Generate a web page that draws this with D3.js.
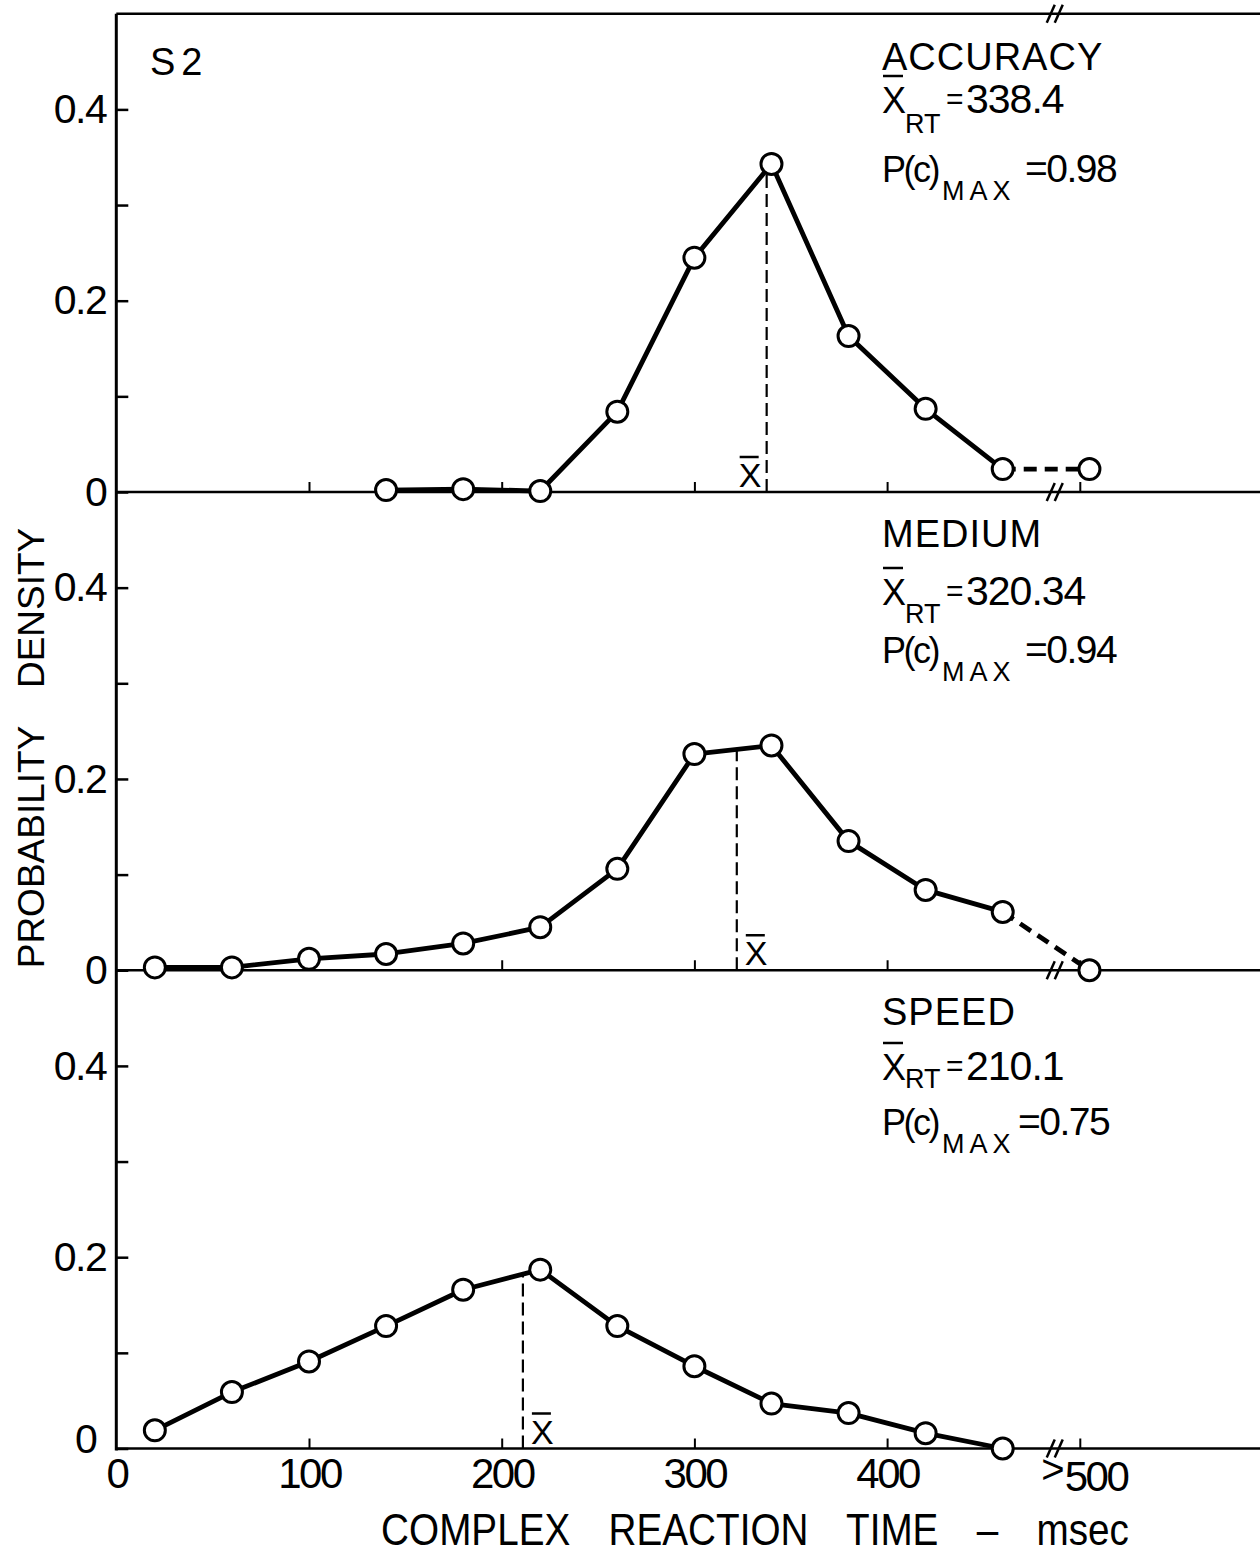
<!DOCTYPE html>
<html>
<head>
<meta charset="utf-8">
<script src="https://cdn.jsdelivr.net/npm/d3@7"></script>
<style>
  body { margin: 0; background: #fff; }
  text { font-family: "Liberation Sans", Arial, sans-serif; fill: #000; }
</style>
</head>
<body>
<div id="chart"></div>
<script>
// bin midpoints (msec) and the ">500" bin plotted just past the axis break
const binMid = [20, 60, 100, 140, 180, 220, 260, 300, 340, 380, 420, 460];
const overBin = 505;

// probability density per bin (null = not plotted)
const accuracy = [null, null, null, 0.002, 0.003, 0.001, 0.084, 0.245, 0.343, 0.163, 0.087, 0.024];
const medium   = [0.003, 0.003, 0.012, 0.017, 0.028, 0.045, 0.106, 0.226, 0.235, 0.135, 0.084, 0.061];
const speed    = [0.019, 0.059, 0.091, 0.128, 0.166, 0.187, 0.128, 0.086, 0.047, 0.037, 0.016, 0.0];
const overValue = [0.024, 0.0, null];   // ">500" bin, joined by a dashed segment

const conditions = ["ACCURACY", "MEDIUM", "SPEED"];
const meanRT = ["338.4", "320.34", "210.1"];
const pcMax = ["0.98", "0.94", "0.75"];
const meanMark = [337.5, 322, 211];     // where the dashed X-bar lines are drawn

const xTicks = [0, 100, 200, 300, 400, 500];
const yTicks = [0, 0.1, 0.2, 0.3, 0.4];
const breakAt = 487;

const W = 1260, H = 1557;
const left = 116.3, panelH = 478.25, firstBase = 492;

const svg = d3.select("#chart").append("svg")
    .attr("width", W).attr("height", H);

var x = d3.scaleLinear().domain([0, 500]).range([left, left + 500 * 1.927]);

var series = [accuracy, medium, speed].map(function(vals, i) {
    return {
        name: conditions[i],
        values: binMid.map(function(b, j) { return {t: b, v: vals[j]}; }),
        over: overValue[i],
        mean: meanRT[i],
        pc: pcMax[i],
        mark: meanMark[i]
    };
});

// top frame line
svg.append("line")
    .attr("x1", left).attr("x2", W).attr("y1", firstBase - panelH).attr("y2", firstBase - panelH)
    .attr("stroke", "#000").attr("stroke-width", 2.5);

// left axis line
svg.append("line")
    .attr("x1", left).attr("x2", left)
    .attr("y1", firstBase - panelH).attr("y2", firstBase + 2 * panelH + 2)
    .attr("stroke", "#000").attr("stroke-width", 3);

function breakMark(yy) {
    [-4, 4].forEach(function(o) {
        svg.append("line")
            .attr("x1", x(breakAt) + o - 4).attr("y1", yy + 9)
            .attr("x2", x(breakAt) + o + 4).attr("y2", yy - 9)
            .attr("stroke", "#000").attr("stroke-width", 2.5);
    });
}
breakMark(firstBase - panelH);

series.forEach(function(s, i) {
    var base = firstBase + i * panelH;
    var y = d3.scaleLinear().domain([0, 0.5]).range([base, base - panelH]);
    var g = svg.append("g");

    // baseline
    g.append("line")
        .attr("x1", left).attr("x2", W).attr("y1", base).attr("y2", base)
        .attr("stroke", "#000").attr("stroke-width", 2.5);
    breakMark(base);

    // y axis ticks (inward)
    var yAxis = d3.axisLeft(y).tickValues(yTicks).tickSize(-12).tickPadding(10)
        .tickFormat(function(d) {
            if (d === 0) return "0";
            if (d === 0.2 || d === 0.4) return d3.format(".1f")(d);
            return "";
        });
    var ya = g.append("g").attr("transform", "translate(" + left + ",0)").call(yAxis);
    ya.select(".domain").remove();
    ya.selectAll("line").attr("stroke", "#000").attr("stroke-width", 2.5);
    ya.selectAll("text").attr("font-size", 41).style("font-family", "Liberation Sans, Arial, sans-serif")
        .attr("letter-spacing", -1.5);
    if (i === 2) {
        ya.selectAll("text").filter(function(d) { return d === 0; })
            .attr("x", -20).attr("dy", "0.1em");
    }

    // x ticks (upward)
    var xAxis = d3.axisBottom(x).tickValues(xTicks.slice(1)).tickSize(-10).tickFormat("");
    var xa = g.append("g").attr("transform", "translate(0," + base + ")").call(xAxis);
    xa.select(".domain").remove();
    xa.selectAll("line").attr("stroke", "#000").attr("stroke-width", 2);

    // mean RT dashed marker
    var pts = s.values.filter(function(d) { return d.v !== null; });
    var k = d3.bisector(function(d) { return d.t; }).left(pts, s.mark);
    var a = pts[k - 1], b = pts[k];
    var vm = a.v + (b.v - a.v) * (s.mark - a.t) / (b.t - a.t);
    g.append("line")
        .attr("x1", x(s.mark)).attr("x2", x(s.mark))
        .attr("y1", y(0)).attr("y2", y(vm))
        .attr("stroke", "#000").attr("stroke-width", 2.2).attr("stroke-dasharray", "13,6");

    // X-bar label next to the marker
    var onLeft = i === 0;
    var xbx = onLeft ? x(s.mark) - 28 : x(s.mark) + 8;
    g.append("text").attr("x", xbx).attr("y", base - 5).attr("font-size", 34).text("X");
    g.append("line")
        .attr("x1", xbx + 1).attr("x2", xbx + 20)
        .attr("y1", base - 35).attr("y2", base - 35)
        .attr("stroke", "#000").attr("stroke-width", 2.5);

    // curve
    var line = d3.line()
        .defined(function(d) { return d.v !== null; })
        .x(function(d) { return x(d.t); })
        .y(function(d) { return y(d.v); });
    g.append("path").datum(s.values).attr("d", line)
        .attr("fill", "none").attr("stroke", "#000").attr("stroke-width", 4.8)
        .attr("stroke-linejoin", "round");

    var allPts = pts.slice();
    if (s.over !== null) {
        var last = pts[pts.length - 1];
        g.append("path").datum([last, {t: overBin, v: s.over}]).attr("d", line)
            .attr("fill", "none").attr("stroke", "#000").attr("stroke-width", 4.8)
            .attr("stroke-dasharray", "13,8");
        allPts.push({t: overBin, v: s.over});
    }

    g.selectAll("circle").data(allPts).enter().append("circle")
        .attr("cx", function(d) { return x(d.t); })
        .attr("cy", function(d) { return y(d.v); })
        .attr("r", 10.5)
        .attr("fill", "#fff").attr("stroke", "#000").attr("stroke-width", 3);

    // condition annotation
    var tx = 882;
    var rows = [[70, 113, 182], [547, 605, 663], [1025, 1080, 1135]][i];
    var subDrop = [20, 18, 8][i];
    var pcX = [1025, 1025, 1018][i];
    g.append("text").attr("x", tx).attr("y", rows[0]).attr("font-size", 38)
        .attr("letter-spacing", 1).text(s.name);

    g.append("text").attr("x", tx).attr("y", rows[1]).attr("font-size", 36).text("X");
    g.append("line").attr("x1", tx + 1).attr("x2", tx + 21)
        .attr("y1", rows[1] - 37).attr("y2", rows[1] - 37)
        .attr("stroke", "#000").attr("stroke-width", 2.5);
    g.append("text").attr("x", tx + 23).attr("y", rows[1] + subDrop)
        .attr("font-size", 27).text("RT");
    g.append("text").attr("x", tx + 64).attr("y", rows[1] - 4).attr("font-size", 30).text("=");
    g.append("text").attr("x", tx + 84).attr("y", rows[1]).attr("font-size", 41)
        .attr("letter-spacing", -1).text(s.mean);

    g.append("text").attr("x", tx).attr("y", rows[2]).attr("font-size", 36)
        .attr("letter-spacing", -2.5).text("P(c)");
    g.append("text").attr("x", tx + 60).attr("y", rows[2] + 18).attr("font-size", 27)
        .attr("letter-spacing", 5).text("MAX");
    g.append("text").attr("x", pcX).attr("y", rows[2]).attr("font-size", 39)
        .attr("letter-spacing", -1.5).text("=" + s.pc);

    // x tick labels on the bottom panel
    if (i === 2) {
        var xl = g.append("g").attr("transform", "translate(0," + base + ")")
            .call(d3.axisBottom(x).tickValues(xTicks).tickSize(0).tickPadding(10)
                .tickFormat(function(d) { return d === 500 ? "500" : d; }));
        xl.select(".domain").remove();
        xl.selectAll("text").attr("font-size", 42).attr("letter-spacing", -2.5);
        xl.selectAll("text").filter(function(d) { return d === 500; })
            .attr("dy", null).attr("dx", 4).attr("letter-spacing", 0).text(null)
            .call(function(t) {
                t.append("tspan").attr("font-size", 40).attr("dy", 24).text(">");
                t.append("tspan").attr("dy", 8).attr("letter-spacing", -2.5).text("500");
            });
    }
});

// S2 panel label
svg.append("text").attr("x", 150).attr("y", 75).attr("font-size", 38)
    .attr("letter-spacing", 6).text("S2");

// axis titles
svg.append("text")
    .attr("transform", "translate(44," + 748 + ") rotate(-90)")
    .attr("text-anchor", "middle").attr("font-size", 37)
    .attr("word-spacing", 28).text("PROBABILITY DENSITY");

svg.append("text")
    .attr("transform", "translate(755,1545) scale(0.86,1)")
    .attr("text-anchor", "middle").attr("font-size", 45)
    .attr("word-spacing", 32).text("COMPLEX REACTION TIME \u2013 msec");
</script>
</body>
</html>
